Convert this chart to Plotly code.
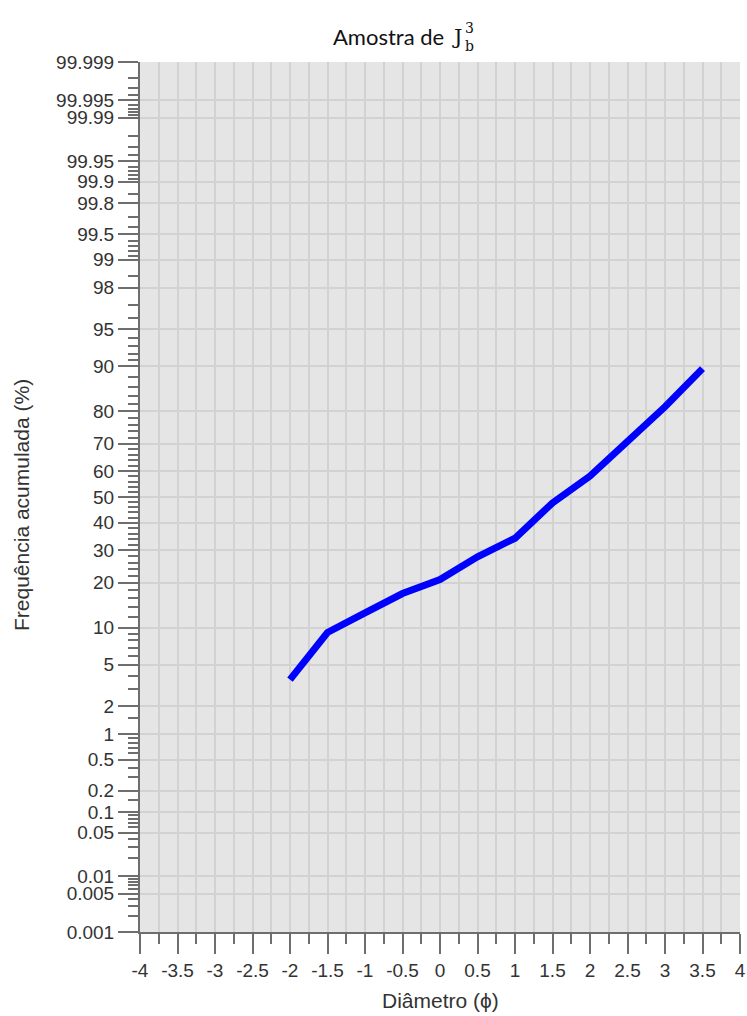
from statistics import NormalDist
import plotly.graph_objects as go

# Data
phi = [-2, -1.5, -1, -0.5, 0, 0.5, 1, 1.5, 2, 2.5, 3, 3.5]
freq_pct = [3.67, 9.2, 12.8, 17.2, 20.9, 27.9, 34.3, 47.7, 58.1, 70.8, 81.2, 89.6]

x_ticks = [-4, -3.5, -3, -2.5, -2, -1.5, -1, -0.5, 0, 0.5, 1, 1.5, 2, 2.5, 3, 3.5, 4]
x_text = ["-4", "-3.5", "-3", "-2.5", "-2", "-1.5", "-1", "-0.5", "0", "0.5", "1", "1.5",
          "2", "2.5", "3", "3.5", "4"]

major_pct = [99.999, 99.995, 99.99, 99.95, 99.9, 99.8, 99.5, 99, 98, 95, 90, 80, 70, 60, 50,
             40, 30, 20, 10, 5, 2, 1, 0.5, 0.2, 0.1, 0.05, 0.01, 0.005, 0.001]
major_text = ["99.999", "99.995", "99.99", "99.95", "99.9", "99.8", "99.5", "99", "98", "95", "90",
              "80", "70", "60", "50", "40", "30", "20", "10", "5", "2", "1", "0.5", "0.2", "0.1",
              "0.05", "0.01", "0.005", "0.001"]
minor_low = [0.002, 0.003, 0.004, 0.006, 0.007, 0.008, 0.009, 0.02, 0.03, 0.04,
             0.06, 0.07, 0.08, 0.09, 0.15, 0.3, 0.4, 0.6, 0.7, 0.8, 0.9, 1.5, 3, 4,
             6, 7, 8, 9, 12, 14, 16, 18, 22, 24, 26, 28, 32, 34, 36, 38, 42, 44, 46, 48]
minor_pct = minor_low + [round(100 - v, 4) for v in minor_low]

nd = NormalDist()
def z(p):
    return nd.inv_cdf(p / 100.0)

y_line = [z(p) for p in freq_pct]
zmax = z(99.999)

fig = go.Figure()
fig.add_trace(go.Scatter(
    x=phi, y=y_line, mode="lines",
    line=dict(color="#0000ff", width=7),
    hoverinfo="skip", showlegend=False,
))

SANS = "Liberation Sans, Arial, sans-serif"
tick_font = dict(family=SANS, size=19, color="#333333")
tick_col = "#6e6e6e"
grid_col = "#d2d2d2"

W, H = 747, 1016
L, R, T, B = 140, 7, 62, 84
pw, ph = W - L - R, H - T - B

fig.update_layout(
    width=W, height=H,
    margin=dict(l=L, r=R, t=T, b=B, autoexpand=False),
    paper_bgcolor="white",
    plot_bgcolor="#e5e5e5",
    showlegend=False,
    xaxis=dict(
        range=[-4, 4], tickmode="array", tickvals=x_ticks, ticktext=x_text,
        ticks="outside", ticklen=20, tickwidth=2, tickcolor=tick_col,
        showgrid=True, gridcolor=grid_col, gridwidth=1.5,
        minor=dict(dtick=0.25, tick0=-4, ticks="outside", ticklen=10, tickwidth=2,
                   tickcolor=tick_col, showgrid=True, gridcolor=grid_col, gridwidth=1.5),
        showline=True, linecolor=tick_col, linewidth=2,
        zeroline=False, tickfont=tick_font, automargin=False,
        ticklabeloverflow="allow",
    ),
    yaxis=dict(
        range=[-zmax, zmax], tickmode="array",
        tickvals=[z(p) for p in major_pct], ticktext=major_text,
        ticks="outside", ticklen=20, tickwidth=2, tickcolor=tick_col,
        showgrid=True, gridcolor=grid_col, gridwidth=1.5,
        minor=dict(tickmode="array", tickvals=[z(p) for p in minor_pct], ticks="outside",
                   ticklen=10, tickwidth=2, tickcolor=tick_col, showgrid=False),
        showline=True, linecolor=tick_col, linewidth=2,
        zeroline=False, tickfont=tick_font, automargin=False,
    ),
)

def px_x(px):
    return (px - L) / pw

def px_y(py):
    return (H - B - py) / ph

title_font = dict(family="Lato, Open Sans, sans-serif", size=22, color="#111111")
math_font = dict(family="DejaVu Serif, Liberation Serif, serif", size=21, color="#111111")
small_math = dict(family="DejaVu Serif, Liberation Serif, serif", size=14, color="#111111")

fig.add_annotation(text="Amostra de", xref="paper", yref="paper", x=px_x(446), y=px_y(37),
                   xanchor="right", yanchor="middle", showarrow=False, font=title_font)
fig.add_annotation(text="J", xref="paper", yref="paper", x=px_x(450), y=px_y(37),
                   xanchor="left", yanchor="middle", showarrow=False, font=math_font)
fig.add_annotation(text="3", xref="paper", yref="paper", x=px_x(463), y=px_y(28),
                   xanchor="left", yanchor="middle", showarrow=False, font=small_math)
fig.add_annotation(text="b", xref="paper", yref="paper", x=px_x(463), y=px_y(46),
                   xanchor="left", yanchor="middle", showarrow=False, font=small_math)

fig.add_annotation(text="Frequência acumulada (%)", xref="paper", yref="paper",
                   x=px_x(22), y=px_y(505), xanchor="center", yanchor="middle",
                   textangle=-90, showarrow=False,
                   font=dict(family=SANS, size=21, color="#333333"))
fig.add_annotation(text="Diâmetro (\u03d5)", xref="paper", yref="paper",
                   x=px_x(440), y=px_y(1000), xanchor="center", yanchor="middle",
                   showarrow=False, font=dict(family=SANS, size=21, color="#333333"))

fig.write_html("out.html", config={"displayModeBar": False},
               post_script="document.body.style.margin='0';document.body.style.overflow='hidden';")
